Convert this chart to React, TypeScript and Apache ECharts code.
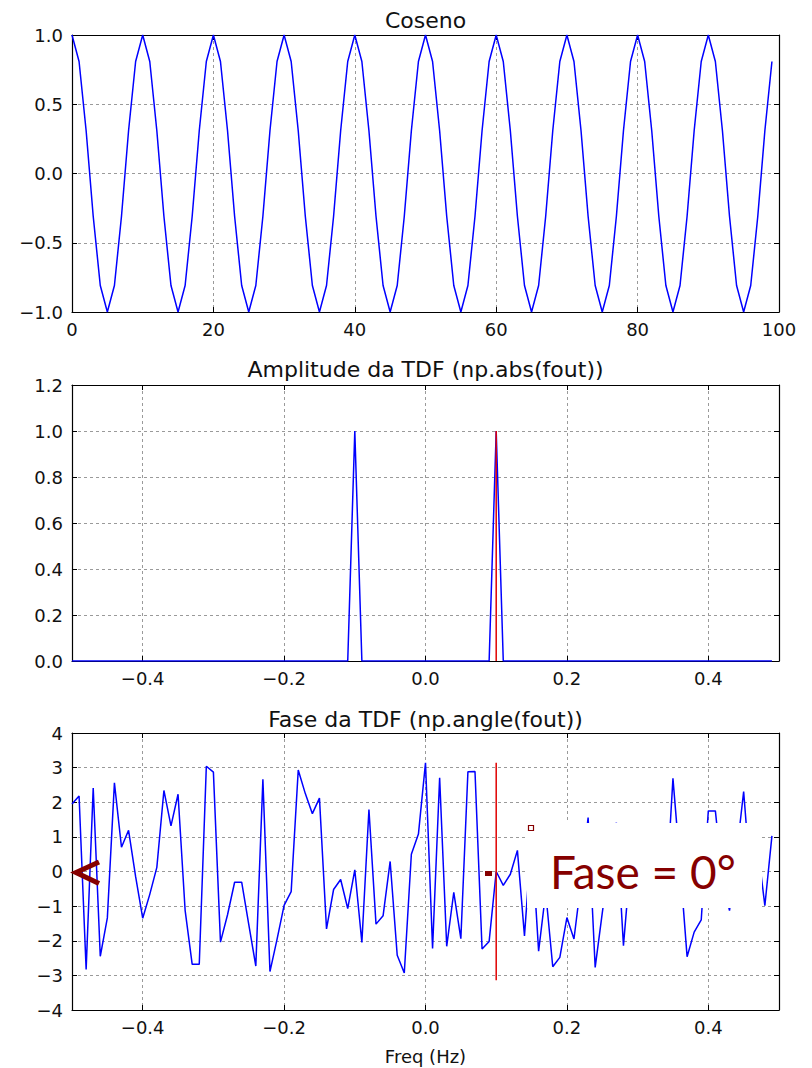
import React, { useEffect, useRef } from 'react';
import * as echarts from 'echarts';

// ---- data ----
const cosineValues = [
  1, 0.809, 0.309, -0.309, -0.809, -1, -0.809, -0.309, 0.309, 0.809,
  1, 0.809, 0.309, -0.309, -0.809, -1, -0.809, -0.309, 0.309, 0.809,
  1, 0.809, 0.309, -0.309, -0.809, -1, -0.809, -0.309, 0.309, 0.809,
  1, 0.809, 0.309, -0.309, -0.809, -1, -0.809, -0.309, 0.309, 0.809,
  1, 0.809, 0.309, -0.309, -0.809, -1, -0.809, -0.309, 0.309, 0.809,
  1, 0.809, 0.309, -0.309, -0.809, -1, -0.809, -0.309, 0.309, 0.809,
  1, 0.809, 0.309, -0.309, -0.809, -1, -0.809, -0.309, 0.309, 0.809,
  1, 0.809, 0.309, -0.309, -0.809, -1, -0.809, -0.309, 0.309, 0.809,
  1, 0.809, 0.309, -0.309, -0.809, -1, -0.809, -0.309, 0.309, 0.809,
  1, 0.809, 0.309, -0.309, -0.809, -1, -0.809, -0.309, 0.309, 0.809,
];

const amplitudeValues = [
  0, 0, 0, 0, 0, 0, 0, 0, 0, 0,
  0, 0, 0, 0, 0, 0, 0, 0, 0, 0,
  0, 0, 0, 0, 0, 0, 0, 0, 0, 0,
  0, 0, 0, 0, 0, 0, 0, 0, 0, 0,
  1, 0, 0, 0, 0, 0, 0, 0, 0, 0,
  0, 0, 0, 0, 0, 0, 0, 0, 0, 0,
  1, 0, 0, 0, 0, 0, 0, 0, 0, 0,
  0, 0, 0, 0, 0, 0, 0, 0, 0, 0,
  0, 0, 0, 0, 0, 0, 0, 0, 0, 0,
  0, 0, 0, 0, 0, 0, 0, 0, 0, 0,
];

const phaseValues = [
  1.95, 2.18, -2.83, 2.41, -2.45, -1.34, 2.56, 0.70, 1.19, -0.15,
  -1.35, -0.66, 0.12, 2.34, 1.32, 2.23, -1.12, -2.68, -2.68, 3.04,
  2.87, -2.04, -1.25, -0.31, -0.31, -1.53, -2.73, 2.66, -2.89, -1.96,
  -0.98, -0.58, 2.93, 2.25, 1.67, 2.12, -1.66, -0.52, -0.23, -1.07,
  0.05, -2.05, 1.79, -1.52, -1.28, 0.29, -2.42, -2.93, 0.50, 1.08,
  3.14, -2.22, 2.71, -2.16, -0.60, -1.94, 2.88, 2.89, -2.24, -2.02,
  0.00, -0.40, -0.08, 0.61, -1.86, 1.00, -2.30, -0.60, -2.75, -2.48,
  -1.33, -1.95, -0.30, 1.56, -2.77, -1.20, 0.30, 1.41, -2.14, 0.30,
  -0.60, 0.90, -0.20, 0.50, -0.80, 2.69, 0.20, -2.46, -1.75, -1.40,
  1.75, 1.75, -0.20, -1.13, 0.50, 2.31, -0.30, 0.70, -0.99, 1.03,
];

const sampleStart = 0;
const freqStart = -0.5;
const freqStep = 0.01;
const markerFreq = 0.1;
const markerAmplitude = [0, 1];
const markerPhase = [-3.14159, 3.14159];

const titles = ['Coseno', 'Amplitude da TDF (np.abs(fout))', 'Fase da TDF (np.angle(fout))'];
const freqLabel = 'Freq (Hz)';
const annotationText = 'Fase = 0°';

// ---- layout / style ----
const FONT = "'DejaVu Sans', 'Liberation Sans', sans-serif";
const BLUE = '#0000ff';
const RED = '#e00000';
const DARKRED = '#860000';
const PLOT_L = 72;
const PLOT_W = 707;
const grids = [
  { left: PLOT_L, top: 35, width: PLOT_W, height: 277 },
  { left: PLOT_L, top: 385, width: PLOT_W, height: 276 },
  { left: PLOT_L, top: 733, width: PLOT_W, height: 277 },
];

const fmt = (digits: number) => (v: number) => {
  const x = Math.abs(v) < 1e-9 ? 0 : v;
  return x.toFixed(digits).replace('-', '\u2212');
};

type AxisCfg = {
  min: number;
  max: number;
  interval?: number;
  splitNumber?: number;
  digits: number;
  hideEdges?: boolean;
};

function makeAxes(gridIndex: number, xc: AxisCfg, yc: AxisCfg) {
  const tick = { show: true, inside: true, length: 5, lineStyle: { color: '#000', width: 1 } };
  const line = { show: true, onZero: false, lineStyle: { color: '#000', width: 1.2 } };
  const split = { show: true, lineStyle: { color: '#9a9a9a', type: [3, 3], width: 1 } };
  const lbl = { color: '#111', fontFamily: FONT, fontSize: 18 };
  const xBase = { type: 'value', gridIndex, min: xc.min, max: xc.max, interval: xc.interval, splitNumber: xc.splitNumber };
  const yBase = { type: 'value', gridIndex, min: yc.min, max: yc.max, interval: yc.interval, splitNumber: yc.splitNumber };
  const xAxes = [
    {
      ...xBase,
      position: 'bottom',
      axisLine: line,
      axisTick: tick,
      splitLine: split,
      axisLabel: {
        ...lbl,
        margin: 8,
        formatter: fmt(xc.digits),
        showMinLabel: !xc.hideEdges,
        showMaxLabel: !xc.hideEdges,
      },
    },
    {
      ...xBase,
      position: 'top',
      axisLine: line,
      axisTick: tick,
      splitLine: { show: false },
      axisLabel: { show: false },
    },
  ];
  const yAxes = [
    {
      ...yBase,
      position: 'left',
      axisLine: line,
      axisTick: tick,
      splitLine: split,
      axisLabel: { ...lbl, margin: 9, formatter: fmt(yc.digits) },
    },
    {
      ...yBase,
      position: 'right',
      axisLine: line,
      axisTick: tick,
      splitLine: { show: false },
      axisLabel: { show: false },
    },
  ];
  return { xAxes, yAxes };
}

export default function App() {
  const ref = useRef<HTMLDivElement>(null);

  useEffect(() => {
    if (!ref.current) return;
    const chart = echarts.init(ref.current, undefined, { renderer: 'svg' });

    const a0 = makeAxes(0, { min: 0, max: 100, interval: 20, digits: 0 }, { min: -1, max: 1, interval: 0.5, digits: 1 });
    const a1 = makeAxes(
      1,
      { min: -0.5, max: 0.5, splitNumber: 5, digits: 1, hideEdges: true },
      { min: 0, max: 1.2, interval: 0.2, digits: 1 }
    );
    const a2 = makeAxes(
      2,
      { min: -0.5, max: 0.5, splitNumber: 5, digits: 1, hideEdges: true },
      { min: -4, max: 4, interval: 1, digits: 0 }
    );

    const cosData = cosineValues.map((v, i) => [sampleStart + i, v]);
    const freqOf = (i: number) => Math.round((freqStart + i * freqStep) * 1000) / 1000;
    const ampData = amplitudeValues.map((v, i) => [freqOf(i), v]);
    const phaseData = phaseValues.map((v, i) => [freqOf(i), v]);

    const lineSeries = (data: number[][], axisIdx: number, color: string, z: number) => ({
      type: 'line',
      xAxisIndex: axisIdx,
      yAxisIndex: axisIdx,
      data,
      showSymbol: false,
      symbol: 'none',
      lineStyle: { color, width: 1.5 },
      itemStyle: { color },
      z,
      silent: true,
    });

    const centerText = (text: string, y: number, size: number) => ({
      type: 'text',
      x: PLOT_L + PLOT_W / 2,
      y,
      z: 100,
      style: {
        text,
        fill: '#111',
        fontFamily: FONT,
        fontSize: size,
        align: 'center',
        verticalAlign: 'middle',
        textAlign: 'center',
        textVerticalAlign: 'middle',
      },
    });

    chart.setOption({
      animation: false,
      backgroundColor: '#fff',
      grid: grids.map((g) => ({ ...g, containLabel: false })),
      xAxis: [...a0.xAxes, ...a1.xAxes, ...a2.xAxes],
      yAxis: [...a0.yAxes, ...a1.yAxes, ...a2.yAxes],
      series: [
        lineSeries(cosData, 0, BLUE, 3),
        lineSeries(ampData, 2, BLUE, 3),
        lineSeries([[markerFreq, markerAmplitude[0]], [markerFreq, markerAmplitude[1]]], 2, RED, 4),
        lineSeries(phaseData, 4, BLUE, 3),
        lineSeries([[markerFreq, markerPhase[0]], [markerFreq, markerPhase[1]]], 4, RED, 4),
      ],
      graphic: [
        centerText(titles[0], 20, 22),
        centerText(titles[1], 369, 22),
        centerText(titles[2], 719, 22),
        centerText(freqLabel, 1056, 18),
        {
          type: 'rect',
          z: 100,
          shape: { x: 527, y: 823, width: 235, height: 85 },
          style: { fill: '#ffffff' },
        },
        {
          type: 'text',
          z: 101,
          x: 550,
          y: 871,
          style: {
            text: annotationText,
            fill: DARKRED,
            fontFamily: "Lato, 'Open Sans', sans-serif",
            fontSize: 46,
            align: 'left',
            verticalAlign: 'middle',
            textAlign: 'left',
            textVerticalAlign: 'middle',
          },
        },
        {
          type: 'rect',
          z: 101,
          shape: { x: 528.5, y: 825.5, width: 5, height: 5 },
          style: { fill: '#fff', stroke: DARKRED, lineWidth: 1.2 },
        },
        {
          type: 'rect',
          z: 101,
          shape: { x: 485, y: 871, width: 7, height: 5 },
          style: { fill: DARKRED },
        },
        {
          type: 'polyline',
          z: 101,
          shape: { points: [[99, 862], [76, 872.5], [99, 883.5]] },
          style: { stroke: DARKRED, lineWidth: 5, fill: 'none', lineJoin: 'miter' },
        },
      ],
    });

    return () => chart.dispose();
  }, []);

  return (
    <div
      ref={ref}
      style={{ position: 'absolute', left: 0, top: 0, width: 812, height: 1068, background: '#fff' }}
    />
  );
}
